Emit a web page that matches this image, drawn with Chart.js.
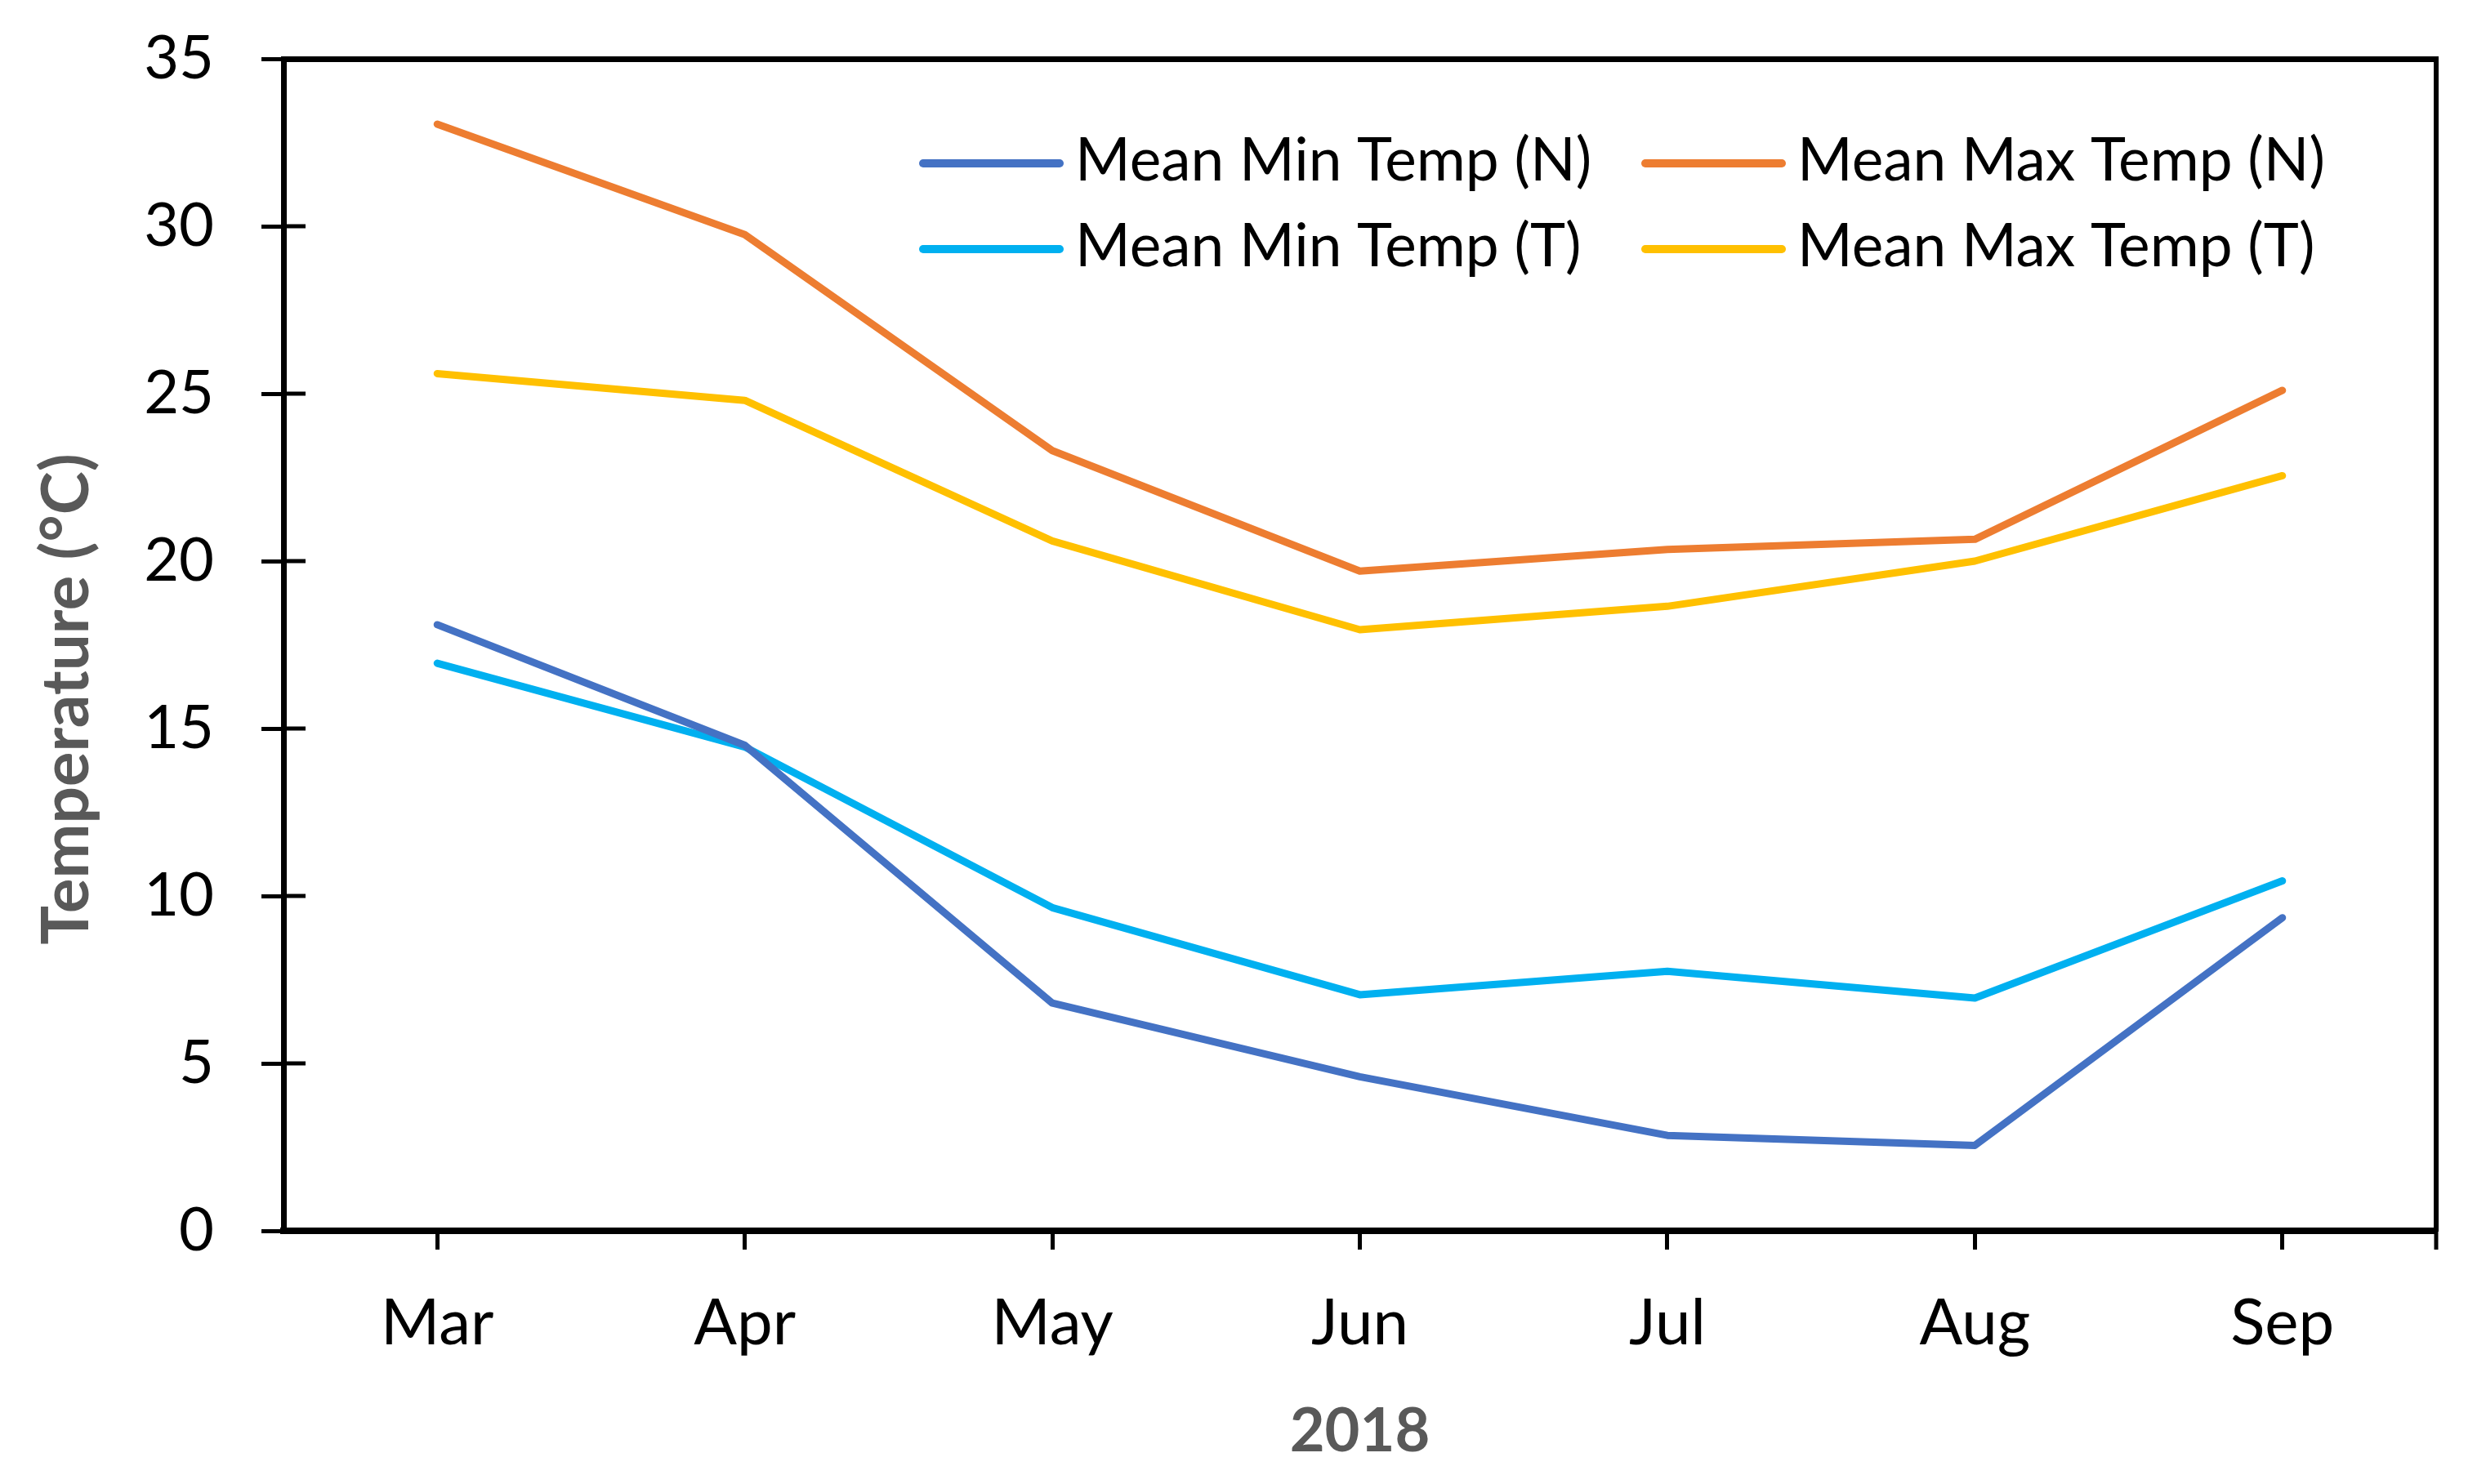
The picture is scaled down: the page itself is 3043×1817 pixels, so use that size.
<!DOCTYPE html>
<html>
<head>
<meta charset="utf-8">
<title>Mean temperatures 2018</title>
<script src="https://cdn.jsdelivr.net/npm/chart.js@4.4.0/dist/chart.umd.min.js"></script>
<style>
    html, body { margin: 0; padding: 0; background: #fff; }
    #wrap { width: 3043px; height: 1817px; }
</style>
</head>
<body>
<div id="wrap"><canvas id="temp-chart"></canvas></div>
<script>
// month labels on the x axis
const months = ['Mar', 'Apr', 'May', 'Jun', 'Jul', 'Aug', 'Sep'];

// values (°C)
const minTempN = [18.1, 14.5, 6.8, 4.6, 2.85, 2.55, 9.35];
const maxTempN = [33.05, 29.75, 23.3, 19.7, 20.35, 20.65, 25.1];
const minTempT = [16.95, 14.45, 9.65, 7.05, 7.75, 6.95, 10.45];
const maxTempT = [25.6, 24.8, 20.6, 17.95, 18.65, 20.0, 22.55];

// y axis ticks
const yTicks = [0, 5, 10, 15, 20, 25, 30, 35];

const seriesNames = ['Mean Min Temp (N)', 'Mean Max Temp (N)', 'Mean Min Temp (T)', 'Mean Max Temp (T)'];
const seriesColors = ['#4472C4', '#ED7D31', '#00B0F0', '#FFC000'];
const seriesData = [minTempN, maxTempN, minTempT, maxTempT];

const FONT = 'Lato, "Open Sans", sans-serif';
Chart.defaults.font.family = FONT;
Chart.defaults.color = '#000';

let datasets = [];
seriesNames.forEach((name, i) => {
    datasets.push({
        label: name,
        data: seriesData[i],
        borderColor: seriesColors[i],
        backgroundColor: seriesColors[i],
        borderWidth: 9,
        borderCapStyle: 'round',
        borderJoinStyle: 'round',
        pointRadius: 0,
        tension: 0,
        fill: false
    });
});

// legend in two columns inside the plot, like the excel one
const boxLegend = {
    id: 'boxLegend',
    afterDraw(chart, args, opts) {
        const ctx = chart.ctx;
        ctx.save();
        ctx.font = opts.fontSize + 'px ' + FONT;
        ctx.textBaseline = 'middle';
        ctx.textAlign = 'left';
        chart.data.datasets.forEach((ds, i) => {
            const x = opts.cols[i % 2];
            const y = opts.rows[Math.floor(i / 2)];
            ctx.strokeStyle = ds.borderColor;
            ctx.lineWidth = 10;
            ctx.lineCap = 'round';
            ctx.beginPath();
            ctx.moveTo(x, y);
            ctx.lineTo(x + opts.sample, y);
            ctx.stroke();
            ctx.fillStyle = '#000';
            ctx.fillText(ds.label, x + opts.sample + opts.gap, y - 3);
        });
        ctx.restore();
    }
};

// y ticks cross the axis (outer half comes from the scale) + y title placed like excel
const axisExtras = {
    id: 'axisExtras',
    afterDraw(chart, args, opts) {
        const ctx = chart.ctx;
        const y = chart.scales.y;
        const area = chart.chartArea;
        ctx.save();
        ctx.strokeStyle = '#000';
        ctx.lineWidth = 5;
        ctx.beginPath();
        y.ticks.forEach(t => {
            const py = y.getPixelForValue(t.value);
            ctx.moveTo(area.left, py);
            ctx.lineTo(area.left + 27, py);
        });
        // little tick under the right edge
        ctx.moveTo(area.right, area.bottom);
        ctx.lineTo(area.right, area.bottom + 23);
        ctx.stroke();

        ctx.translate(opts.titleX, opts.titleY);
        ctx.rotate(-Math.PI / 2);
        ctx.font = 'bold ' + opts.titleSize + 'px ' + FONT;
        ctx.fillStyle = '#595959';
        ctx.textAlign = 'center';
        ctx.textBaseline = 'middle';
        ctx.fillText(opts.title, 0, 0);
        ctx.restore();
    }
};

const ctx = document.getElementById('temp-chart').getContext('2d');
const myChart = new Chart(ctx, {
    type: 'line',
    data: {
        labels: months,
        datasets: datasets
    },
    options: {
        responsive: true,
        maintainAspectRatio: false,
        devicePixelRatio: 1,
        animation: false,
        layout: { padding: 0 },
        plugins: {
            legend: { display: false },
            tooltip: { enabled: false },
            boxLegend: { cols: [1130, 2014], rows: [200, 305], sample: 167, gap: 19, fontSize: 73 },
            axisExtras: { title: 'Temperature (°C)', titleX: 82, titleY: 856, titleSize: 80 }
        },
        scales: {
            x: {
                type: 'category',
                position: 'bottom',
                offset: true,
                grid: { drawOnChartArea: false, offset: false, tickLength: 23, tickWidth: 5, tickColor: '#000' },
                border: { color: '#000', width: 8 },
                ticks: { font: { size: 78 }, color: '#000', padding: 44, maxRotation: 0, autoSkip: false },
                title: {
                    display: true,
                    text: '2018',
                    color: '#595959',
                    font: { size: 74, weight: 'bold' },
                    padding: { top: 0, bottom: 19 }
                },
                afterFit: s => { s.height = 310; s.paddingLeft = 0; s.paddingRight = 0; }
            },
            y: {
                position: 'left',
                min: 0,
                max: 35,
                afterBuildTicks: s => { s.ticks = yTicks.map(v => ({ value: v })); },
                grid: { drawOnChartArea: false, tickLength: 27, tickWidth: 5, tickColor: '#000' },
                border: { color: '#000', width: 7 },
                ticks: { font: { size: 74 }, color: '#000', padding: 58 },
                afterFit: s => { s.width = 347; s.paddingTop = 0; s.paddingBottom = 0; }
            },
            x2: {
                type: 'category',
                position: 'top',
                grid: { display: false },
                ticks: { display: false },
                border: { color: '#000', width: 7 },
                afterFit: s => { s.height = 72; }
            },
            y2: {
                position: 'right',
                grid: { display: false },
                ticks: { display: false },
                border: { color: '#000', width: 6 },
                afterFit: s => { s.width = 61; }
            }
        }
    },
    plugins: [boxLegend, axisExtras]
});
</script>
</body>
</html>
